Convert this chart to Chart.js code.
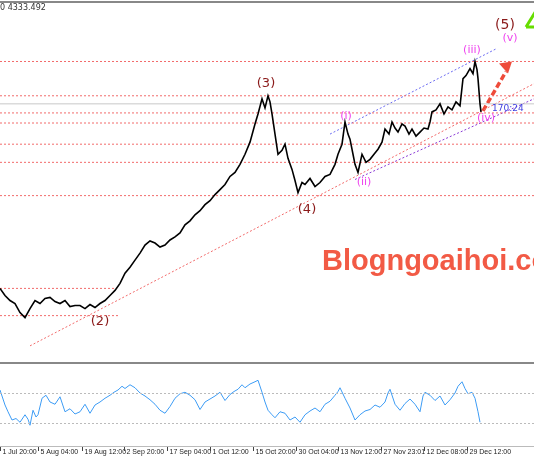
<!DOCTYPE html>
<html>
<head>
<meta charset="utf-8">
<script src="https://cdn.jsdelivr.net/npm/chart.js@4"></script>
<style>
  body { margin: 0; background: #fff; width: 534px; height: 462px; overflow: hidden; position: relative; font-family: "DejaVu Sans", sans-serif; }
  #main { position: absolute; left: 0; top: 3px; }
  #rsi { position: absolute; left: 0; top: 366px; }
  .rule { position: absolute; left: 0; width: 534px; background: #888; }
</style>
</head>
<body>
<div class="rule" style="top:1px;height:2px;"></div>
<canvas id="main" width="534" height="358"></canvas>
<div class="rule" style="top:362px;height:2px;"></div>
<div class="rule" style="top:446px;height:1px;background:#bbb"></div>
<canvas id="rsi" width="534" height="96"></canvas>
<script>
'use strict';

// ====================== DATA ======================//
// bar index (time) and close price
let priceBars = [0, 5, 10, 15, 20, 25, 30, 35, 40, 45, 50, 55, 60, 65, 70, 75, 80, 85, 90, 95, 100, 105, 110, 115, 120, 125, 130, 135, 140, 145, 150, 155, 160, 165, 170, 175, 180, 185, 190, 195, 200, 205, 210, 215, 220, 225, 230, 235, 240, 245, 250, 255, 258, 262, 265, 268, 270, 272, 275, 278, 282, 285, 288, 292, 295, 298, 302, 305, 310, 315, 320, 325, 330, 335, 338, 342, 345, 348, 350, 353, 355, 358, 362, 366, 370, 374, 378, 382, 385, 389, 392, 395, 398, 402, 405, 409, 412, 416, 420, 424, 428, 430, 432, 436, 440, 444, 448, 452, 456, 460, 463, 466, 470, 473, 475, 477, 478, 480, 481];
let prices = [3035, 3000, 2975, 2960, 2915, 2890, 2935, 2975, 2960, 2985, 2990, 2970, 2960, 2975, 2945, 2950, 2950, 2935, 2955, 2940, 2960, 2975, 3000, 3025, 3060, 3110, 3140, 3175, 3210, 3250, 3270, 3260, 3240, 3250, 3275, 3290, 3310, 3350, 3370, 3400, 3420, 3450, 3470, 3500, 3525, 3550, 3590, 3610, 3650, 3700, 3760, 3850, 3900, 3975, 3930, 3990, 3960, 3900, 3800, 3700, 3720, 3750, 3680, 3625, 3570, 3510, 3560, 3550, 3580, 3540, 3560, 3590, 3600, 3650, 3700, 3750, 3860, 3800, 3775, 3700, 3650, 3610, 3700, 3660, 3675, 3700, 3725, 3760, 3825, 3800, 3860, 3830, 3810, 3850, 3840, 3800, 3825, 3790, 3810, 3830, 3825, 3860, 3910, 3920, 3950, 3900, 3935, 3920, 3960, 3940, 4075, 4090, 4125, 4100, 4160, 4120, 4075, 3950, 3910];

let rsiBars = [0, 3, 5, 8, 12, 16, 20, 25, 28, 30, 33, 36, 38, 42, 46, 50, 55, 60, 65, 70, 75, 80, 85, 90, 95, 100, 105, 110, 114, 118, 122, 125, 130, 135, 140, 145, 150, 155, 160, 165, 170, 175, 180, 185, 190, 195, 200, 205, 210, 215, 220, 225, 230, 234, 238, 242, 245, 250, 255, 258, 262, 265, 268, 272, 275, 280, 285, 290, 295, 300, 305, 310, 315, 320, 325, 330, 335, 338, 340, 345, 350, 355, 360, 365, 370, 375, 380, 385, 388, 390, 395, 400, 405, 410, 415, 420, 423, 425, 430, 435, 440, 445, 450, 455, 458, 462, 465, 468, 472, 475, 478, 480];
let rsiValues = [74, 62, 54, 45, 34, 36, 31, 41, 35, 27, 47, 38, 41, 63, 67, 58, 55, 65, 45, 49, 42, 45, 55, 43, 54, 58, 63, 67, 71, 74, 79, 76, 81, 77, 70, 66, 61, 55, 47, 43, 52, 63, 69, 71, 67, 61, 48, 58, 62, 66, 71, 60, 68, 72, 75, 81, 77, 82, 85, 87, 71, 58, 47, 41, 37, 45, 43, 34, 38, 31, 41, 46, 50, 45, 55, 59, 67, 72, 77, 63, 50, 34, 41, 46, 48, 54, 51, 58, 70, 75, 55, 47, 56, 62, 55, 45, 66, 71, 67, 60, 66, 54, 61, 70, 79, 85, 76, 69, 71, 63, 45, 31];

let levelPrices = [4160, 3990, 3905, 3855, 3750, 3660, 3495];
let shortLevels = [3035, 2900];
let lastPrice = 3950;

let tickBars = [0, 38, 82, 124, 167, 210, 253, 296, 338, 381, 424, 467];
let tickLabels = ['1 Jul 20:00', '5 Aug 04:00', '19 Aug 12:00', '2 Sep 20:00', '17 Sep 04:00', '1 Oct 12:00', '15 Oct 20:00', '30 Oct 04:00', '13 Nov 12:00', '27 Nov 23:01', '12 Dec 08:00', '29 Dec 12:00'];

let waveLabels = [
  { text: '(2)', x: 100, y: 2870, color: '#8b1a1a', size: 13 },
  { text: '(3)', x: 266, y: 4050, color: '#8b1a1a', size: 13 },
  { text: '(4)', x: 307, y: 3425, color: '#8b1a1a', size: 13 },
  { text: '(5)', x: 505, y: 4340, color: '#8b1a1a', size: 14 },
  { text: '(i)', x: 346, y: 3890, color: '#ee44ee', size: 11 },
  { text: '(ii)', x: 364, y: 3560, color: '#ee44ee', size: 11 },
  { text: '(iii)', x: 472, y: 4215, color: '#ee44ee', size: 11 },
  { text: '(iv)', x: 486, y: 3880, color: '#ee44ee', size: 11 },
  { text: '(v)', x: 510, y: 4275, color: '#ee44ee', size: 11 }
];

// ====================== HELPERS ======================//
function toPoints(xs, ys) {
  let pts = [];
  for (let i = 0; i < xs.length; i++) {
    pts.push({ x: xs[i], y: ys[i] });
  }
  return pts;
}

function lineSet(points, color, width, dash) {
  return {
    data: points,
    borderColor: color,
    borderWidth: width,
    borderDash: dash,
    pointRadius: 0,
    tension: 0,
    fill: false
  };
}

let datasets = [];
datasets.push(lineSet(toPoints(priceBars, prices), '#000', 1.6, []));
for (let i = 0; i < levelPrices.length; i++) {
  datasets.push(lineSet([{ x: 0, y: levelPrices[i] }, { x: 534, y: levelPrices[i] }], '#f26b6b', 1, [2, 2]));
}
datasets.push(lineSet([{ x: 0, y: shortLevels[0] }, { x: 115, y: shortLevels[0] }], '#f26b6b', 1, [2, 2]));
datasets.push(lineSet([{ x: 0, y: shortLevels[1] }, { x: 120, y: shortLevels[1] }], '#f26b6b', 1, [2, 2]));
datasets.push(lineSet([{ x: 0, y: lastPrice }, { x: 534, y: lastPrice }], '#c8c8c8', 1, []));
// trend lines
datasets.push(lineSet([{ x: 30, y: 2750 }, { x: 534, y: 4050 }], '#f26b6b', 1, [2, 2]));
datasets.push(lineSet([{ x: 330, y: 3800 }, { x: 497, y: 4225 }], '#6b6bf2', 1, [2, 2]));
datasets.push(lineSet([{ x: 355, y: 3575 }, { x: 534, y: 3975 }], '#8a3ad6', 1, [2, 2]));
// projection arrow
datasets.push(lineSet([{ x: 483, y: 3915 }, { x: 506, y: 4110 }], '#ee4b3a', 3.5, [6, 3]));

// ====================== PLUGINS ======================//
let annotations = {
  id: 'annotations',
  afterDatasetsDraw(chart) {
    let ctx = chart.ctx;
    let xs = chart.scales.x;
    let ys = chart.scales.y;
    ctx.save();
    ctx.textAlign = 'center';
    ctx.textBaseline = 'middle';
    waveLabels.forEach(function (l) {
      ctx.fillStyle = l.color;
      ctx.font = l.size + 'px "DejaVu Sans"';
      ctx.fillText(l.text, xs.getPixelForValue(l.x), ys.getPixelForValue(l.y));
    });
    // arrow head
    let hx = xs.getPixelForValue(512), hy = ys.getPixelForValue(4160);
    ctx.fillStyle = '#ee4b3a';
    ctx.beginPath();
    ctx.moveTo(hx, hy);
    ctx.lineTo(hx - 13, hy + 2);
    ctx.lineTo(hx - 4, hy + 12);
    ctx.closePath();
    ctx.fill();
    // green marker
    ctx.strokeStyle = '#66dd00';
    ctx.lineWidth = 3;
    ctx.beginPath();
    ctx.moveTo(526, 24);
    ctx.lineTo(536, 8);
    ctx.moveTo(526, 24);
    ctx.lineTo(536, 24);
    ctx.stroke();
    // texts
    ctx.textAlign = 'left';
    ctx.fillStyle = '#4040e0';
    ctx.font = '9px "DejaVu Sans"';
    ctx.fillText('170:24', 492, ys.getPixelForValue(3925));
    ctx.fillStyle = '#333';
    ctx.font = '8px "DejaVu Sans"';
    ctx.fillText('0 4333.492', 0, 5);
    ctx.fillStyle = '#f25a45';
    ctx.font = 'bold 29px "Liberation Sans"';
    ctx.fillText('Blogngoaihoi.com', 322, 259);
    ctx.restore();
  }
};

let rsiDecor = {
  id: 'rsiDecor',
  afterDraw(chart) {
    let ctx = chart.ctx;
    let xs = chart.scales.x;
    let ys = chart.scales.y;
    ctx.save();
    ctx.strokeStyle = '#bbb';
    ctx.setLineDash([2, 2]);
    ctx.lineWidth = 1;
    [70, 30].forEach(function (v) {
      let y = Math.round(ys.getPixelForValue(v)) + 0.5;
      ctx.beginPath();
      ctx.moveTo(0, y);
      ctx.lineTo(534, y);
      ctx.stroke();
    });
    ctx.setLineDash([]);
    ctx.strokeStyle = '#444';
    ctx.fillStyle = '#222';
    ctx.font = '7px "Liberation Sans"';
    ctx.textBaseline = 'middle';
    for (let i = 0; i < tickBars.length; i++) {
      let x = Math.round(xs.getPixelForValue(tickBars[i])) + 0.5;
      ctx.beginPath();
      ctx.moveTo(x, 81);
      ctx.lineTo(x, 85);
      ctx.stroke();
      ctx.fillText(tickLabels[i], x + 2, 86);
    }
    ctx.restore();
  }
};

let baseOptions = function (ymin, ymax) {
  return {
    responsive: false,
    animation: false,
    layout: { padding: 0 },
    plugins: { legend: { display: false }, tooltip: { enabled: false } },
    scales: {
      x: { type: 'linear', min: 0, max: 534, display: false },
      y: { min: ymin, max: ymax, display: false }
    }
  };
};

// ====================== CHARTS ======================//
let mainCtx = document.getElementById('main').getContext('2d');
let mainChart = new Chart(mainCtx, {
  type: 'line',
  data: { datasets: datasets },
  options: baseOptions(2675, 4450),
  plugins: [annotations]
});

let rsiCtx = document.getElementById('rsi').getContext('2d');
let rsiChart = new Chart(rsiCtx, {
  type: 'line',
  data: { datasets: [lineSet(toPoints(rsiBars, rsiValues), '#3d9cf5', 1, [])] },
  options: baseOptions(-22, 106),
  plugins: [rsiDecor]
});
</script>
</body>
</html>
